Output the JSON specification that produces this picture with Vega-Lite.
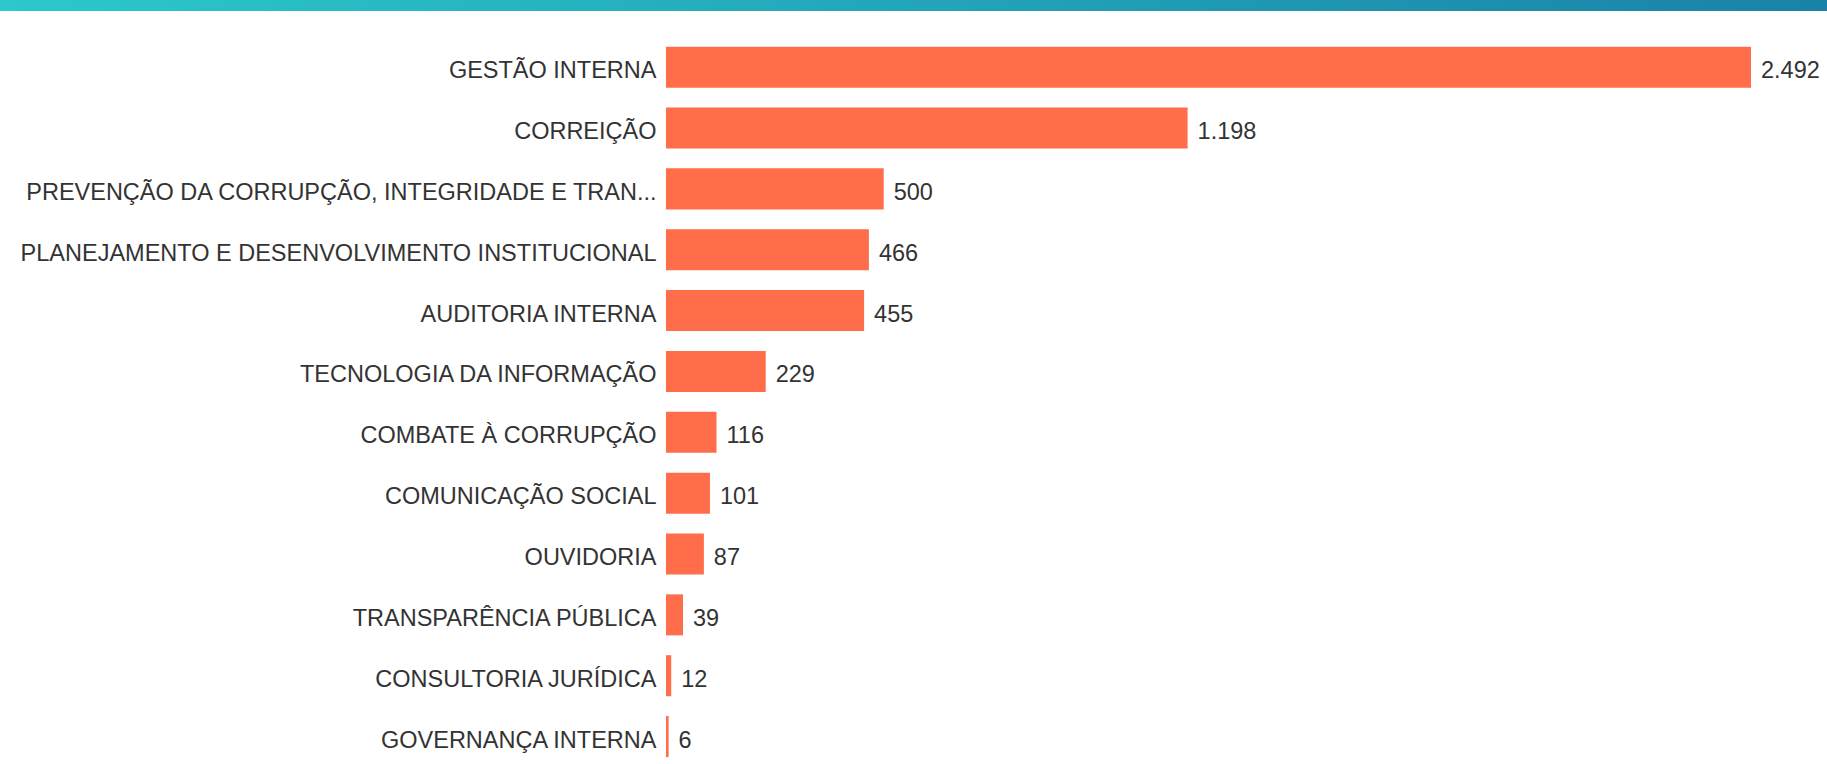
{
  "$schema": "https://vega.github.io/schema/vega-lite/v6.json",
  "width": 1827,
  "height": 764,
  "autosize": "none",
  "padding": 0,
  "background": "white",
  "config": {
    "view": {"stroke": null},
    "locale": {"number": {"decimal": ",", "thousands": ".", "grouping": [3], "currency": ["R$", ""]}}
  },
  "datasets": {
    "band": [{"x0": -1529.6, "x1": 2666.5, "y0": 0, "y1": 11}],
    "main": [
      {"categoria": "GESTÃO INTERNA", "valor": 2492},
      {"categoria": "CORREIÇÃO", "valor": 1198},
      {"categoria": "PREVENÇÃO DA CORRUPÇÃO, INTEGRIDADE E TRAN...", "valor": 500},
      {"categoria": "PLANEJAMENTO E DESENVOLVIMENTO INSTITUCIONAL", "valor": 466},
      {"categoria": "AUDITORIA INTERNA", "valor": 455},
      {"categoria": "TECNOLOGIA DA INFORMAÇÃO", "valor": 229},
      {"categoria": "COMBATE À CORRUPÇÃO", "valor": 116},
      {"categoria": "COMUNICAÇÃO SOCIAL", "valor": 101},
      {"categoria": "OUVIDORIA", "valor": 87},
      {"categoria": "TRANSPARÊNCIA PÚBLICA", "valor": 39},
      {"categoria": "CONSULTORIA JURÍDICA", "valor": 12},
      {"categoria": "GOVERNANÇA INTERNA", "valor": 6}
    ]
  },
  "layer": [
    {
      "data": {"name": "band"},
      "mark": {
        "type": "rect",
        "fill": {
          "gradient": "linear", "x1": 0, "y1": 0, "x2": 1, "y2": 0,
          "stops": [{"offset": 0, "color": "#2bc9cb"}, {"offset": 1, "color": "#1a82a8"}]
        }
      },
      "encoding": {
        "x": {"field": "x0", "type": "quantitative", "scale": {"domain": [-1529.6, 2666.5], "nice": false, "zero": false}, "axis": null},
        "x2": {"field": "x1"},
        "y": {"field": "y0", "type": "quantitative", "scale": {"domain": [0, 764], "reverse": true, "nice": false, "zero": false}, "axis": null},
        "y2": {"field": "y1"}
      }
    },
    {
      "data": {"name": "main"},
      "encoding": {
        "y": {
          "field": "categoria", "type": "nominal", "sort": null,
          "scale": {"paddingInner": 0.326, "paddingOuter": 0.44, "align": 0.871},
          "axis": {
            "orient": "left", "offset": -666, "title": null, "ticks": false, "domain": false,
            "labelPadding": 10, "labelLimit": 900, "labelFontSize": 23.5, "labelOffset": 4,
            "labelFont": "Liberation Sans, Arial, sans-serif", "labelColor": "#333333"
          }
        },
        "x": {"field": "valor", "type": "quantitative", "scale": {"domain": [-1529.6, 2666.5], "nice": false, "zero": false}, "axis": null}
      },
      "layer": [
        {"mark": {"type": "bar", "color": "#ff6d4a"}, "encoding": {"x2": {"datum": 0}}},
        {
          "mark": {"type": "text", "align": "left", "baseline": "middle", "dx": 10, "dy": 4, "fontSize": 23.5, "font": "Liberation Sans, Arial, sans-serif", "color": "#333333"},
          "encoding": {"text": {"field": "valor", "type": "quantitative", "format": ",d"}}
        }
      ]
    }
  ],
  "resolve": {"scale": {"y": "independent"}, "axis": {"y": "independent"}}
}
